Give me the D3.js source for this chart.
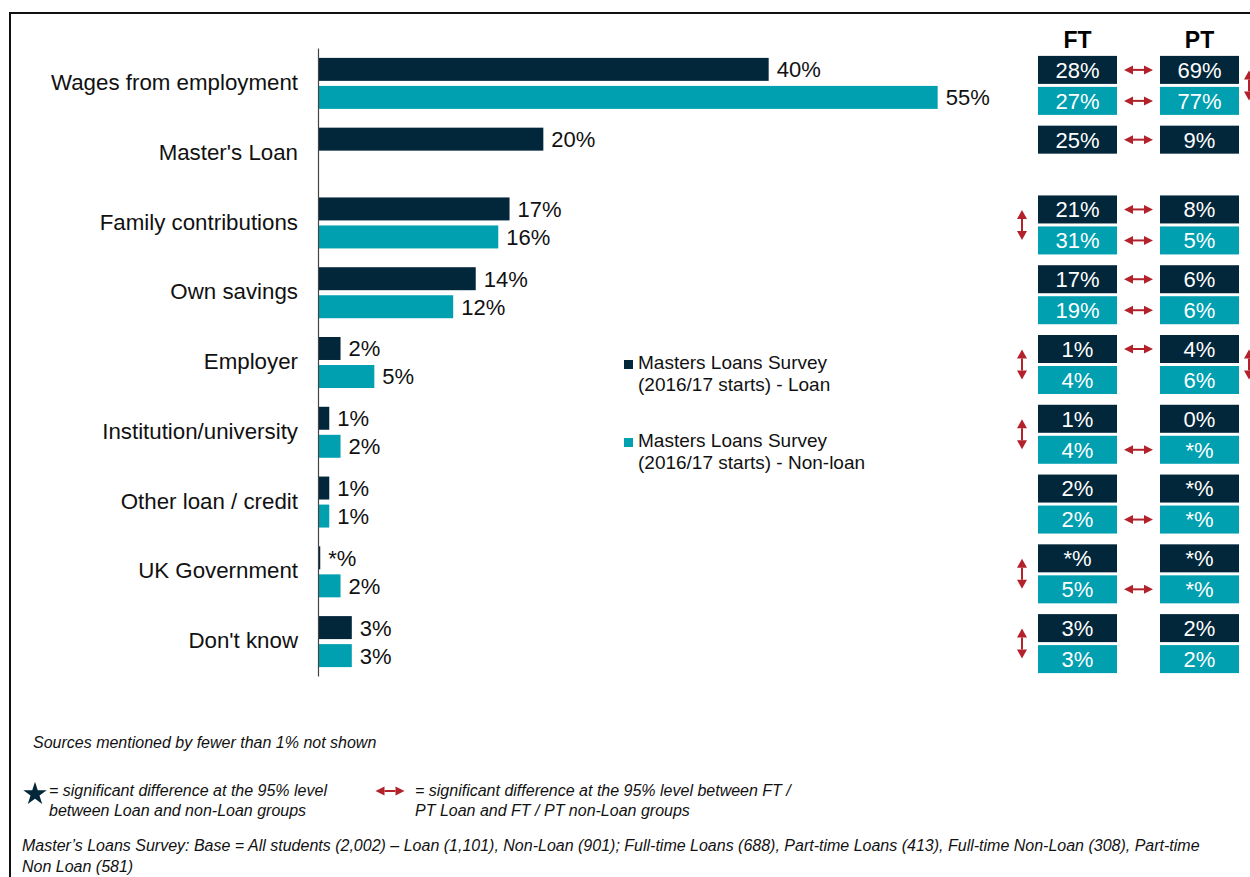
<!DOCTYPE html>
<html>
<head>
<meta charset="utf-8">
<script src="https://cdn.jsdelivr.net/npm/d3@7"></script>
<style>
  body { margin: 0; background: #fff; }
  svg { display: block; font-family: "Liberation Sans", Arial, sans-serif; }
  .note { font-family: "Liberation Sans Narrow", "Arial Narrow", "Liberation Sans", sans-serif; font-style: italic; }
</style>
</head>
<body>
<div id="chart"></div>
<script>
// Categories and survey values (% of students)
var categories = ["Wages from employment", "Master's Loan", "Family contributions", "Own savings",
                  "Employer", "Institution/university", "Other loan / credit", "UK Government", "Don't know"];
var loanValues    = [40, 20, 17, 14, 2, 1, 1, 0.2, 3];
var loanLabels    = ["40%", "20%", "17%", "14%", "2%", "1%", "1%", "*%", "3%"];
var nonLoanValues = [55, null, 16, 12, 5, 2, 1, 2, 3];
var nonLoanLabels = ["55%", null, "16%", "12%", "5%", "2%", "1%", "2%", "3%"];

// FT / PT breakdown table
var ftLoan    = ["28%", "25%", "21%", "17%", "1%", "1%", "2%", "*%", "3%"];
var ftNonLoan = ["27%", null, "31%", "19%", "4%", "4%", "2%", "5%", "3%"];
var ptLoan    = ["69%", "9%", "8%", "6%", "4%", "0%", "*%", "*%", "2%"];
var ptNonLoan = ["77%", null, "5%", "6%", "6%", "*%", "*%", "*%", "2%"];
// significance markers (1 = arrow shown)
var sigLoanFtPt    = [1, 1, 1, 1, 1, 0, 0, 0, 0];
var sigNonLoanFtPt = [1, 0, 1, 1, 0, 1, 1, 1, 0];
var sigFtLoanNon   = [0, 0, 1, 0, 1, 1, 0, 1, 1];
var sigPtLoanNon   = [1, 0, 0, 0, 1, 0, 0, 0, 0];

var seriesNames = ["Masters Loans Survey|(2016/17 starts) - Loan", "Masters Loans Survey|(2016/17 starts) - Non-loan"];

var navy = "#02263a", teal = "#00a0b1", red = "#b3222b";

var width = 1250, height = 877;
var svg = d3.select("#chart").append("svg")
    .attr("width", width)
    .attr("height", height);

// frame
svg.append("line").attr("x1", 10).attr("x2", width).attr("y1", 13).attr("y2", 13)
   .attr("stroke", "#111").attr("stroke-width", 2);
svg.append("line").attr("x1", 10).attr("x2", 10).attr("y1", 12).attr("y2", height)
   .attr("stroke", "#111").attr("stroke-width", 2);

// scales
var x = d3.scaleLinear().domain([0, 60]).range([318, 994]);
var y = d3.scaleBand().domain(categories).range([48, 676]);
var ySub = d3.scaleBand().domain(["loan", "nonloan"]).range([-25, 26]).paddingInner(0.18);
function center(d) { return y(d) + y.bandwidth() / 2; }

var rows = categories.map(function (c, i) {
  return { cat: c, loan: loanValues[i], loanLabel: loanLabels[i],
           non: nonLoanValues[i], nonLabel: nonLoanLabels[i] };
});

// bars
var bars = [];
rows.forEach(function (r) {
  bars.push({ cat: r.cat, key: "loan", v: r.loan, label: r.loanLabel });
  if (r.non != null) bars.push({ cat: r.cat, key: "nonloan", v: r.non, label: r.nonLabel });
});

svg.append("g").selectAll("rect").data(bars).join("rect")
   .attr("x", x(0))
   .attr("y", function (d) { return center(d.cat) + ySub(d.key); })
   .attr("width", function (d) { return x(d.v) - x(0); })
   .attr("height", ySub.bandwidth())
   .attr("fill", function (d) { return d.key == "loan" ? navy : teal; });

svg.append("g").selectAll("text").data(bars).join("text")
   .attr("x", function (d) { return x(d.v) + 8; })
   .attr("y", function (d) { return center(d.cat) + ySub(d.key) + ySub.bandwidth() / 2; })
   .attr("dy", "0.36em")
   .attr("font-size", 22)
   .attr("fill", "#111")
   .text(function (d) { return d.label; });

// category axis
var yAxis = d3.axisLeft(y).tickSize(0).tickPadding(20);
var gAxis = svg.append("g").attr("transform", "translate(" + x(0) + ",0)").call(yAxis);
gAxis.select(".domain").attr("stroke", "#444").attr("stroke-width", 1.2);
gAxis.selectAll(".tick text")
     .attr("font-size", 22.3)
     .attr("font-family", "Liberation Sans, Arial, sans-serif")
     .attr("fill", "#111");

// legend
var legend = svg.append("g").selectAll("g").data(seriesNames).join("g")
   .attr("transform", function (d, i) { return "translate(624," + (369 + i * 78) + ")"; });
legend.append("rect").attr("width", 9).attr("height", 9).attr("y", -9)
   .attr("fill", function (d, i) { return i == 0 ? navy : teal; });
legend.append("text")
   .attr("x", 14)
   .attr("font-size", 19)
   .attr("fill", "#111")
   .selectAll("tspan").data(function (d) { return d.split("|"); }).join("tspan")
     .attr("x", 14)
     .attr("dy", function (d, i) { return i == 0 ? 0 : 22; })
     .text(function (d) { return d; });

// FT / PT table
var colFT = 1038, colPT = 1160, boxW = 79, boxH = 28;
svg.append("text").attr("x", colFT + boxW / 2).attr("y", 48).attr("text-anchor", "middle")
   .attr("font-size", 23).attr("font-weight", "bold").text("FT");
svg.append("text").attr("x", colPT + boxW / 2).attr("y", 48).attr("text-anchor", "middle")
   .attr("font-size", 23).attr("font-weight", "bold").text("PT");

var cells = [];
categories.forEach(function (c, i) {
  var top = center(c) - 27;
  cells.push({ x: colFT, y: top, t: ftLoan[i], fill: navy });
  cells.push({ x: colPT, y: top, t: ptLoan[i], fill: navy });
  if (ftNonLoan[i] != null) cells.push({ x: colFT, y: top + 31, t: ftNonLoan[i], fill: teal });
  if (ptNonLoan[i] != null) cells.push({ x: colPT, y: top + 31, t: ptNonLoan[i], fill: teal });
});
var cell = svg.append("g").selectAll("g").data(cells).join("g")
   .attr("transform", function (d) { return "translate(" + d.x + "," + d.y + ")"; });
cell.append("rect").attr("width", boxW).attr("height", boxH).attr("fill", function (d) { return d.fill; });
cell.append("text").attr("x", boxW / 2).attr("y", boxH / 2).attr("dy", "0.36em")
    .attr("text-anchor", "middle").attr("font-size", 22).attr("fill", "#fff")
    .text(function (d) { return d.t; });

// double arrows
function hArrow(g, cx, cy, len) {
  var h = len / 2, hl = 9, hw = 4.5;
  g.append("line").attr("x1", cx - h + hl).attr("x2", cx + h - hl).attr("y1", cy).attr("y2", cy)
   .attr("stroke", red).attr("stroke-width", 2);
  g.append("path").attr("fill", red)
   .attr("d", "M" + (cx - h) + "," + cy + "l" + hl + "," + (-hw) + "v" + (2 * hw) + "z" +
              "M" + (cx + h) + "," + cy + "l" + (-hl) + "," + (-hw) + "v" + (2 * hw) + "z");
}
function vArrow(g, cx, cy, len) {
  var h = len / 2, hl = 9, hw = 5;
  g.append("line").attr("x1", cx).attr("x2", cx).attr("y1", cy - h + hl).attr("y2", cy + h - hl)
   .attr("stroke", red).attr("stroke-width", 2);
  g.append("path").attr("fill", red)
   .attr("d", "M" + cx + "," + (cy - h) + "l" + (-hw) + "," + hl + "h" + (2 * hw) + "z" +
              "M" + cx + "," + (cy + h) + "l" + (-hw) + "," + (-hl) + "h" + (2 * hw) + "z");
}
var arrows = svg.append("g");
categories.forEach(function (c, i) {
  var top = center(c) - 27;
  var ax = (colFT + boxW + colPT) / 2;
  if (sigLoanFtPt[i]) hArrow(arrows, ax, top + boxH / 2, 29);
  if (sigNonLoanFtPt[i]) hArrow(arrows, ax, top + 31 + boxH / 2, 29);
  if (sigFtLoanNon[i]) vArrow(arrows, 1022, top + 29.5, 30);
  if (sigPtLoanNon[i]) vArrow(arrows, 1249, top + 29.5, 30);
});

// notes
var notes = svg.append("g").attr("class", "note").attr("fill", "#111").attr("font-size", 16);
notes.append("text").attr("x", 33).attr("y", 748).text("Sources mentioned by fewer than 1% not shown");

var star = d3.symbol().type(d3.symbolStar).size(170);
notes.append("path").attr("d", star()).attr("transform", "translate(35,794)").attr("fill", navy);
notes.append("text").attr("x", 49).attr("y", 796).text("= significant difference at the 95% level");
notes.append("text").attr("x", 49).attr("y", 816).text("between Loan and non-Loan groups");

hArrow(notes, 390, 791, 29);
notes.append("text").attr("x", 415).attr("y", 796).text("= significant difference at the 95% level between FT /");
notes.append("text").attr("x", 415).attr("y", 816).text("PT Loan and FT / PT non-Loan groups");

notes.append("text").attr("x", 22).attr("y", 851)
     .text("Master\u2019s Loans Survey: Base = All students (2,002) \u2013 Loan (1,101), Non-Loan (901); Full-time Loans (688), Part-time Loans (413), Full-time Non-Loan (308), Part-time");
notes.append("text").attr("x", 22).attr("y", 872).text("Non Loan (581)");
</script>
</body>
</html>
